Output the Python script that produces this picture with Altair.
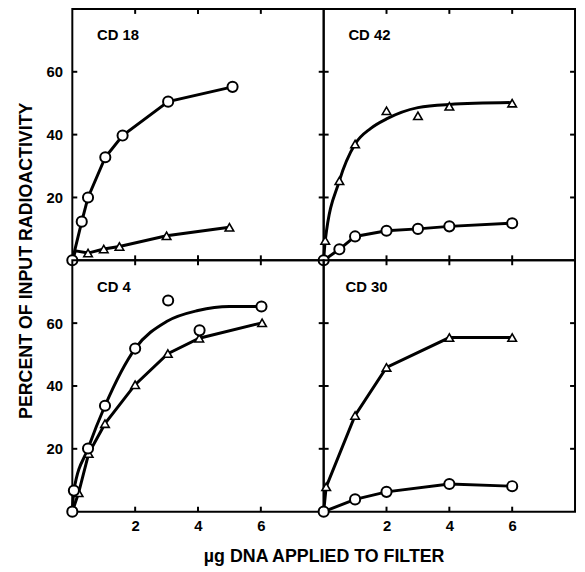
import altair as alt
import pandas as pd

FONT = "Liberation Sans"
W = 254
H = 254
TICK_LEN = 5
X_DOMAIN = [0, 8]
Y_DOMAIN = [0, 80]
X_TICKS = [2, 4, 6]
Y_TICKS = [20, 40, 60]
X_TITLE = "\u00b5g DNA APPLIED TO FILTER"
Y_TITLE = "PERCENT OF INPUT RADIOACTIVITY"

# ---- CD 18 (top left)
CD18_CIRCLE_X = [0, 0.3, 0.5, 1.05, 1.6, 3.05, 5.1]
CD18_CIRCLE_Y = [0, 12.3, 20, 32.8, 39.7, 50.5, 55.2]
CD18_TRI_X = [0.5, 1.0, 1.5, 3.0, 5.0]
CD18_TRI_Y = [2.3, 3.6, 4.4, 7.8, 10.5]
CD18_TRI_LINE_X = [0, 0.1, 0.5, 1.0, 1.5, 3.0, 5.0]
CD18_TRI_LINE_Y = [0, 3.0, 2.3, 3.6, 4.4, 7.8, 10.5]

# ---- CD 42 (top right)
CD42_CIRCLE_X = [0, 0.5, 1.0, 2.0, 3.0, 4.0, 6.0]
CD42_CIRCLE_Y = [0, 3.5, 7.6, 9.4, 10.0, 10.8, 11.8]
CD42_TRI_X = [0.05, 0.5, 1.0, 2.0, 3.0, 4.0, 6.0]
CD42_TRI_Y = [6.3, 25.3, 37.0, 47.6, 46.0, 49.0, 50.0]
CD42_TRI_CURVE_X = [0, 0.05, 0.5, 1.0, 1.5, 2.0, 3.0, 4.0, 6.0]
CD42_TRI_CURVE_Y = [0, 6.3, 25.3, 37.0, 42.0, 45.0, 48.6, 49.6, 50.2]

# ---- CD 4 (bottom left)
CD4_CIRCLE_X = [0, 0.05, 0.5, 1.04, 2.0, 3.05, 4.05, 6.02]
CD4_CIRCLE_Y = [0, 6.7, 20.1, 33.7, 51.9, 67.2, 57.7, 65.3]
CD4_CIRCLE_CURVE_X = [0, 0.05, 0.5, 1.04, 2.0, 3.0, 4.0, 5.0, 6.02]
CD4_CIRCLE_CURVE_Y = [0, 6.7, 20.1, 33.7, 51.9, 60.5, 64.0, 65.3, 65.3]
CD4_TRI_X = [0.2, 0.52, 1.04, 2.0, 3.04, 4.04, 6.04]
CD4_TRI_Y = [6.0, 18.5, 28.0, 40.4, 50.3, 55.2, 60.1]
CD4_TRI_LINE_X = [0, 0.2, 0.52, 1.04, 2.0, 3.04, 4.04, 6.04]
CD4_TRI_LINE_Y = [0, 6.0, 18.5, 28.0, 40.4, 50.3, 55.2, 60.1]

# ---- CD 30 (bottom right)
CD30_CIRCLE_X = [0, 1.0, 2.0, 4.0, 6.0]
CD30_CIRCLE_Y = [0, 3.9, 6.3, 8.8, 8.1]
CD30_TRI_X = [0.08, 1.0, 2.0, 4.0, 6.0]
CD30_TRI_Y = [7.9, 30.6, 45.9, 55.4, 55.4]
CD30_TRI_LINE_X = [0, 0.08, 1.0, 2.0, 4.0, 6.0]
CD30_TRI_LINE_Y = [0, 7.9, 30.6, 45.9, 55.4, 55.4]

xs = alt.Scale(domain=X_DOMAIN, nice=False, zero=False)
ys = alt.Scale(domain=Y_DOMAIN, nice=False, zero=False)

LBL = dict(labelFont=FONT, labelFontSize=15, labelFontWeight="bold", labelColor="black",
           titleFont=FONT, titleFontSize=18, titleFontWeight="bold", titleColor="black")

xtick_df = pd.DataFrame({"v": X_TICKS})
ytick_df = pd.DataFrame({"v": Y_TICKS})


def tick_layers():
    base_x = alt.Chart(xtick_df).mark_rule(color="black", strokeWidth=2)
    base_y = alt.Chart(ytick_df).mark_rule(color="black", strokeWidth=2)
    return [
        base_x.encode(x=alt.X("v:Q", scale=xs, axis=None), y=alt.value(0), y2=alt.value(TICK_LEN)),
        base_x.encode(x=alt.X("v:Q", scale=xs, axis=None), y=alt.value(H), y2=alt.value(H - TICK_LEN)),
        base_y.encode(y=alt.Y("v:Q", scale=ys, axis=None), x=alt.value(0), x2=alt.value(TICK_LEN)),
        base_y.encode(y=alt.Y("v:Q", scale=ys, axis=None), x=alt.value(W), x2=alt.value(W - TICK_LEN)),
    ]


def panel(name, circ_x, circ_y, tri_x, tri_y, lin_lines, curve_lines, bottom, left,
          title_dx, title_off, x_title=False, y_title=False):
    if bottom:
        kw = dict(orient="bottom", values=X_TICKS, ticks=False, domain=False, grid=False,
                  labelPadding=7, **LBL)
        if x_title:
            ax_x = alt.Axis(title=X_TITLE, titleX=W, titleY=45, titleAlign="center",
                            titleBaseline="middle", **kw)
        else:
            ax_x = alt.Axis(title=None, **kw)
    else:
        ax_x = None
    if left:
        kw = dict(orient="left", values=Y_TICKS, ticks=False, domain=False, grid=False,
                  labelPadding=10, **LBL)
        if y_title:
            ax_y = alt.Axis(title=Y_TITLE, titleX=-46, titleY=H, titleAlign="center",
                            titleBaseline="middle", titleAngle=270, **kw)
        else:
            ax_y = alt.Axis(title=None, **kw)
    else:
        ax_y = None

    rows = []
    for sid, (lx, ly) in enumerate(lin_lines):
        for a, b in zip(lx, ly):
            rows.append({"x": a, "y": b, "s": f"l{sid}"})
    lin_df = pd.DataFrame(rows)
    circ_df = pd.DataFrame({"x": circ_x, "y": circ_y})
    tri_df = pd.DataFrame({"x": tri_x, "y": tri_y})

    layers = tick_layers()
    layers.append(alt.Chart(lin_df).mark_line(color="black", strokeWidth=3).encode(
        x=alt.X("x:Q", scale=xs, axis=None),
        y=alt.Y("y:Q", scale=ys, axis=None),
        detail="s:N", order="x:Q"))
    if curve_lines:
        rows = []
        for sid, (lx, ly) in enumerate(curve_lines):
            for a, b in zip(lx, ly):
                rows.append({"x": a, "y": b, "s": f"c{sid}"})
        cdf = pd.DataFrame(rows)
        layers.append(alt.Chart(cdf).mark_line(color="black", strokeWidth=3, interpolate="monotone").encode(
            x=alt.X("x:Q", scale=xs, axis=None),
            y=alt.Y("y:Q", scale=ys, axis=None),
            detail="s:N", order="x:Q"))
    layers.append(alt.Chart(tri_df).mark_point(shape="triangle-up", filled=True, fill="white", stroke="black",
                                               strokeWidth=1.6, size=75, opacity=1).encode(
        x=alt.X("x:Q", scale=xs, axis=None),
        y=alt.Y("y:Q", scale=ys, axis=None)))
    layers.append(alt.Chart(circ_df).mark_point(shape="circle", filled=True, fill="white", stroke="black",
                                                strokeWidth=2, size=105, opacity=1).encode(
        x=alt.X("x:Q", scale=xs, axis=ax_x),
        y=alt.Y("y:Q", scale=ys, axis=ax_y)))

    return alt.layer(*layers).resolve_axis(x="independent", y="independent").properties(
        width=W, height=H,
        title=alt.TitleParams(text=name, anchor="start", frame="group", orient="top",
                              offset=title_off, dx=title_dx, font=FONT, fontSize=15,
                              fontWeight="bold", color="black", baseline="bottom"))


p18 = panel("CD 18", CD18_CIRCLE_X, CD18_CIRCLE_Y, CD18_TRI_X, CD18_TRI_Y,
            [(CD18_CIRCLE_X, CD18_CIRCLE_Y), (CD18_TRI_LINE_X, CD18_TRI_LINE_Y)], [],
            bottom=False, left=True, title_dx=25, title_off=-50, y_title=True)
p42 = panel("CD 42", CD42_CIRCLE_X, CD42_CIRCLE_Y, CD42_TRI_X, CD42_TRI_Y,
            [(CD42_CIRCLE_X, CD42_CIRCLE_Y)], [(CD42_TRI_CURVE_X, CD42_TRI_CURVE_Y)],
            bottom=False, left=False, title_dx=25, title_off=-50)
p4 = panel("CD 4", CD4_CIRCLE_X, CD4_CIRCLE_Y, CD4_TRI_X, CD4_TRI_Y,
           [(CD4_TRI_LINE_X, CD4_TRI_LINE_Y)], [(CD4_CIRCLE_CURVE_X, CD4_CIRCLE_CURVE_Y)],
           bottom=True, left=True, title_dx=25, title_off=-51, x_title=True)
p30 = panel("CD 30", CD30_CIRCLE_X, CD30_CIRCLE_Y, CD30_TRI_X, CD30_TRI_Y,
            [(CD30_CIRCLE_X, CD30_CIRCLE_Y), (CD30_TRI_LINE_X, CD30_TRI_LINE_Y)], [],
            bottom=True, left=False, title_dx=22, title_off=-51)

chart = alt.ConcatChart(concat=[p18, p42, p4, p30], columns=2, spacing=0, bounds="flush").properties(
    padding={"left": 8, "top": -4, "right": 0, "bottom": 0},
    background="white",
).configure_view(stroke="black", strokeWidth=2)

chart.save("out.html", embed_options={"renderer": "svg", "actions": False})
